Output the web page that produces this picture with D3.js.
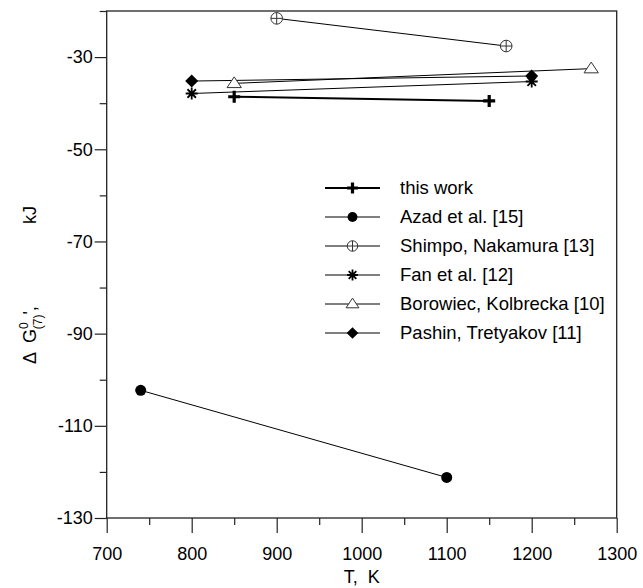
<!DOCTYPE html>
<html>
<head>
<meta charset="utf-8">
<script src="https://cdn.jsdelivr.net/npm/d3@7"></script>
<style>
  body { margin: 0; background: #fff; }
  text { font-family: "Liberation Sans", Arial, sans-serif; fill: #000; }
</style>
</head>
<body>
<div id="app"></div>
<script>
// data
const seriesNames = ['this work', 'Azad et al. [15]', 'Shimpo, Nakamura [13]',
  'Fan et al. [12]', 'Borowiec, Kolbrecka [10]', 'Pashin, Tretyakov [11]'];
const markerTypes = ['plus', 'dot', 'oplus', 'star', 'triangle', 'diamond'];
const tempThis = [850, 1150],     dgThis = [-38.6, -39.5];
const tempAzad = [740, 1100],     dgAzad = [-102.3, -121.2];
const tempShimpo = [900, 1170],   dgShimpo = [-21.6, -27.6];
const tempFan = [800, 1200],      dgFan = [-37.9, -35.3];
const tempBorowiec = [850, 1270], dgBorowiec = [-35.7, -32.5];
const tempPashin = [800, 1200],   dgPashin = [-35.2, -34.1];

const xMajor = [700, 800, 900, 1000, 1100, 1200, 1300];
const xMinor = [750, 850, 950, 1050, 1150, 1250];
const yMajor = [-130, -110, -90, -70, -50, -30];
const yMinor = [-120, -100, -80, -60, -40, -20];

const temps = [tempThis, tempAzad, tempShimpo, tempFan, tempBorowiec, tempPashin];
const dgs = [dgThis, dgAzad, dgShimpo, dgFan, dgBorowiec, dgPashin];
const series = seriesNames.map((name, i) => ({
  name, marker: markerTypes[i],
  points: temps[i].map((t, j) => ({ t, g: dgs[i][j] }))
}));

const width = 643, height = 588;
const plot = { left: 106.7, right: 616.7, top: 11, bottom: 518 };

const svg = d3.select('#app').append('svg')
  .attr('width', width).attr('height', height);

const x = d3.scaleLinear().domain([700, 1300]).range([plot.left, plot.right]);
const y = d3.scaleLinear().domain([-130, -20]).range([plot.bottom, plot.top]);

// axes: major and minor ticks drawn separately
function styleAxis(g) {
  g.select('.domain').remove();
  g.selectAll('line').attr('stroke', '#222').attr('stroke-width', 1.2);
  g.selectAll('text').attr('font-size', 18)
    .style('font-family', '"Liberation Sans", Arial, sans-serif');
}
svg.append('g').attr('transform', `translate(0,${plot.bottom})`)
  .call(d3.axisBottom(x).tickValues(xMajor).tickSize(15).tickPadding(14).tickFormat(d => d))
  .call(styleAxis);
svg.append('g').attr('transform', `translate(0,${plot.bottom})`)
  .call(d3.axisBottom(x).tickValues(xMinor).tickSize(7).tickFormat(''))
  .call(styleAxis);
svg.append('g').attr('transform', `translate(${plot.left},0)`)
  .call(d3.axisLeft(y).tickValues(yMajor).tickSize(12).tickPadding(2).tickFormat(d => String(d)))
  .call(styleAxis);
svg.append('g').attr('transform', `translate(${plot.left},0)`)
  .call(d3.axisLeft(y).tickValues(yMinor).tickSize(7).tickFormat(''))
  .call(styleAxis);

// frame
svg.append('rect')
  .attr('x', plot.left).attr('y', plot.top)
  .attr('width', plot.right - plot.left).attr('height', plot.bottom - plot.top)
  .attr('fill', 'none').attr('stroke', '#222').attr('stroke-width', 1.3);

// axis titles
svg.append('text')
  .attr('x', x(1000)).attr('y', 583)
  .attr('text-anchor', 'middle').attr('font-size', 18)
  .style('white-space', 'pre')
  .text('T,  K');

// rotated: local x = -screenY
const yTitle = svg.append('text')
  .attr('transform', 'translate(36,0) rotate(-90)')
  .attr('font-size', 18)
  .style('white-space', 'pre');
yTitle.append('tspan').attr('x', -364).text('\u0394  G');
yTitle.append('tspan').attr('dy', -8).attr('font-size', 12).text('0');
yTitle.append('tspan').attr('dx', -7).attr('dy', 14).attr('font-size', 12).text('(7)');
yTitle.append('tspan').attr('dy', -6).text("',");
yTitle.append('tspan').attr('x', -224).text('kJ');

// markers
function drawMarker(g, type, cx, cy, s) {
  const k = s || 1;
  if (type === 'plus') {
    g.append('path').attr('d', `M${cx - 6 * k},${cy}H${cx + 6 * k}M${cx},${cy - 6 * k}V${cy + 6 * k}`)
      .attr('stroke', '#000').attr('stroke-width', 3.2);
  } else if (type === 'dot') {
    g.append('circle').attr('cx', cx).attr('cy', cy).attr('r', 5.5 * k).attr('fill', '#000');
  } else if (type === 'oplus') {
    const r = 5.8 * k;
    g.append('circle').attr('cx', cx).attr('cy', cy).attr('r', r)
      .attr('fill', '#fff').attr('stroke', '#333').attr('stroke-width', 1);
    g.append('path').attr('d', `M${cx - r},${cy}H${cx + r}M${cx},${cy - r}V${cy + r}`)
      .attr('stroke', '#333').attr('stroke-width', 1);
  } else if (type === 'star') {
    const r = 6 * k;
    const d = d3.range(4).map(i => {
      const a = i * Math.PI / 4;
      return `M${cx - r * Math.cos(a)},${cy - r * Math.sin(a)}L${cx + r * Math.cos(a)},${cy + r * Math.sin(a)}`;
    }).join('');
    g.append('path').attr('d', d).attr('stroke', '#000').attr('stroke-width', 1.8);
  } else if (type === 'triangle') {
    const r = 6.5 * k;
    g.append('path')
      .attr('d', `M${cx},${cy - r}L${cx + r * 1.1},${cy + r * 0.65}L${cx - r * 1.1},${cy + r * 0.65}Z`)
      .attr('fill', '#fff').attr('stroke', '#333').attr('stroke-width', 1);
  } else if (type === 'diamond') {
    const r = 6.5 * k;
    g.append('path')
      .attr('d', `M${cx},${cy - r}L${cx + r},${cy}L${cx},${cy + r}L${cx - r},${cy}Z`)
      .attr('fill', '#000');
  }
}

const line = d3.line().x(d => x(d.t)).y(d => y(d.g));

svg.append('g').selectAll('path')
  .data(series)
  .join('path')
    .attr('d', d => line(d.points))
    .attr('fill', 'none')
    .attr('stroke', '#000')
    .attr('stroke-width', d => d.marker === 'plus' ? 2 : 1);

const markG = svg.append('g');
series.forEach(s => {
  s.points.forEach(p => drawMarker(markG, s.marker, x(p.t), y(p.g)));
});

// legend
const legend = svg.append('g');
const legX1 = 325, legX2 = 380, legText = 400, legY0 = 188, legStep = 29;
series.forEach((s, i) => {
  const ly = legY0 + i * legStep;
  legend.append('line')
    .attr('x1', legX1).attr('x2', legX2).attr('y1', ly).attr('y2', ly)
    .attr('stroke', '#000').attr('stroke-width', s.marker === 'plus' ? 2 : 1);
  drawMarker(legend, s.marker, (legX1 + legX2) / 2, ly, 0.9);
  legend.append('text')
    .attr('x', legText).attr('y', ly).attr('dy', '0.35em')
    .attr('font-size', 18.5)
    .text(s.name);
});
</script>
</body>
</html>
